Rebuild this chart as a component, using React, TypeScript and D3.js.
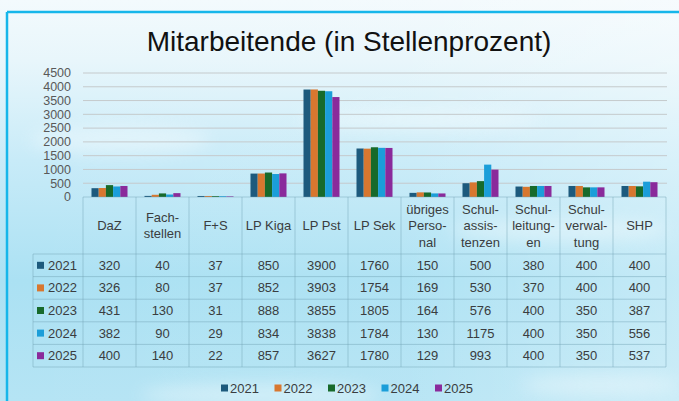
import React from "react";
import * as d3 from "d3";

const categories = ["DaZ", "Fachstellen", "F+S", "LP Kiga", "LP Pst", "LP Sek", "übriges Personal", "Schulassistenzen", "Schulleitungen", "Schulverwaltung", "SHP"];
const categoryLines = [["DaZ"], ["Fach-", "stellen"], ["F+S"], ["LP Kiga"], ["LP Pst"], ["LP Sek"], ["übriges", "Perso-", "nal"], ["Schul-", "assis-", "tenzen"], ["Schul-", "leitung-", "en"], ["Schul-", "verwal-", "tung"], ["SHP"]];
const years = ["2021", "2022", "2023", "2024", "2025"];
const v2021 = [320, 40, 37, 850, 3900, 1760, 150, 500, 380, 400, 400];
const v2022 = [326, 80, 37, 852, 3903, 1754, 169, 530, 370, 400, 400];
const v2023 = [431, 130, 31, 888, 3855, 1805, 164, 576, 400, 350, 387];
const v2024 = [382, 90, 29, 834, 3838, 1784, 130, 1175, 400, 350, 556];
const v2025 = [400, 140, 22, 857, 3627, 1780, 129, 993, 400, 350, 537];
const yTicks = [0, 500, 1000, 1500, 2000, 2500, 3000, 3500, 4000, 4500];
const colors = ["#1d5a7d", "#d8772f", "#176a2b", "#1b9ed9", "#8a2a9b"];
const title = "Mitarbeitende (in Stellenprozent)";

const series = [v2021, v2022, v2023, v2024, v2025];

export default function App() {
  const W = 679, H = 401;
  const x = d3.scaleBand<string>().domain(categories).range([83, 666]);
  const xi = d3.scaleBand<string>().domain(years).range([0, x.bandwidth()]).paddingInner(0).paddingOuter(1.18);
  const y = d3.scaleLinear().domain([0, 4500]).range([197, 73]);
  const tableTop = 197, headerBottom = 254, rowH = 22.6;
  const tableLeft = 33, tableRight = 666;
  const font = "'Liberation Sans', Arial, sans-serif";
  const lineColor = "rgba(110,160,178,0.45)";
  const textColor = "#3a3d40";
  const legendX = d3.scalePoint<string>().domain(years).range([221, 435]);

  return (
    <div style={{ position: "fixed", left: 0, top: 0, width: W, height: H }}>
      <svg width={W} height={H} style={{ display: "block" }}>
        <defs>
          <linearGradient id="bg" x1="0" y1="0" x2="0" y2="1">
            <stop offset="0%" stopColor="#f3fafd" />
            <stop offset="15%" stopColor="#e8f6fb" />
            <stop offset="40%" stopColor="#c8ebf8" />
            <stop offset="70%" stopColor="#abe1f3" />
            <stop offset="100%" stopColor="#b5e4f4" />
          </linearGradient>
          <linearGradient id="bgh" x1="0" y1="0" x2="1" y2="0">
            <stop offset="0%" stopColor="#ffffff" stopOpacity="0" />
            <stop offset="60%" stopColor="#ffffff" stopOpacity="0.05" />
            <stop offset="100%" stopColor="#ffffff" stopOpacity="0.3" />
          </linearGradient>
          <filter id="blur" x="-50%" y="-50%" width="200%" height="200%">
            <feGaussianBlur stdDeviation="8" />
          </filter>
        </defs>
        <rect width={W} height={H} fill="url(#bg)" />
        <rect width={W} height={H} fill="url(#bgh)" />
        <g filter="url(#blur)" fill="#ffffff" opacity={0.35}>
          <ellipse cx={120} cy={140} rx={90} ry={14} />
          <ellipse cx={560} cy={230} rx={110} ry={12} />
          <ellipse cx={260} cy={395} rx={120} ry={12} />
          <ellipse cx={600} cy={385} rx={80} ry={10} />
          <ellipse cx={420} cy={120} rx={120} ry={10} />
        </g>
        {/* frame */}
        <line x1={7} y1={12} x2={W} y2={12} stroke="#16b6ea" strokeWidth={2.5} />
        <line x1={7} y1={12} x2={7} y2={H} stroke="#16b6ea" strokeWidth={2.5} />

        <text x={349} y={51} textAnchor="middle" fontFamily={font} fontSize={28} fill="#111">{title}</text>

        {/* grid */}
        {yTicks.filter(t => t > 0).map(t => (
          <line key={t} x1={83} x2={667} y1={y(t)} y2={y(t)} stroke="#c5cacc" strokeWidth={1} />
        ))}
        {yTicks.map(t => (
          <text key={t} x={71} y={y(t)} dy="0.35em" textAnchor="end" fontFamily={font} fontSize={12.5} fill="#595959">{t}</text>
        ))}

        {/* bars */}
        {categories.map((c, ci) => (
          <g key={c} transform={`translate(${x(c)},0)`}>
            {years.map((yr, si) => (
              <rect key={yr} x={xi(yr)} width={xi.bandwidth()} y={y(series[si][ci])} height={y(0) - y(series[si][ci])} fill={colors[si]} />
            ))}
          </g>
        ))}

        {/* table */}
        <g stroke={lineColor} strokeWidth={1}>
          <line x1={83} x2={tableRight} y1={tableTop} y2={tableTop} />
          {years.map((yr, i) => (
            <line key={yr} x1={tableLeft} x2={tableRight} y1={headerBottom + i * rowH} y2={headerBottom + i * rowH} />
          ))}
          <line x1={tableLeft} x2={tableRight} y1={headerBottom + 5 * rowH} y2={headerBottom + 5 * rowH} />
          <line x1={tableLeft} x2={tableLeft} y1={headerBottom} y2={headerBottom + 5 * rowH} />
          {categories.map(c => (
            <line key={c} x1={x(c)} x2={x(c)} y1={tableTop} y2={headerBottom + 5 * rowH} />
          ))}
          <line x1={tableRight} x2={tableRight} y1={tableTop} y2={headerBottom + 5 * rowH} />
        </g>
        {categories.map((c, ci) => {
          const lines = categoryLines[ci];
          const cx = (x(c) as number) + x.bandwidth() / 2;
          const mid = (tableTop + headerBottom) / 2;
          const lh = 16.5;
          return (
            <text key={c} textAnchor="middle" fontFamily={font} fontSize={13} fill={textColor}>
              {lines.map((l, li) => (
                <tspan key={li} x={cx} y={mid + (li - (lines.length - 1) / 2) * lh} dy="0.35em">{l}</tspan>
              ))}
            </text>
          );
        })}
        {years.map((yr, si) => {
          const cy = headerBottom + si * rowH + rowH / 2;
          return (
            <g key={yr}>
              <rect x={37} y={cy - 3.5} width={7} height={7} fill={colors[si]} />
              <text x={48} y={cy} dy="0.35em" fontFamily={font} fontSize={13} fill={textColor}>{yr}</text>
              {categories.map((c, ci) => (
                <text key={c} x={(x(c) as number) + x.bandwidth() / 2} y={cy} dy="0.35em" textAnchor="middle" fontFamily={font} fontSize={13} fill={textColor}>{series[si][ci]}</text>
              ))}
            </g>
          );
        })}

        {/* legend */}
        {years.map((yr, si) => (
          <g key={yr} transform={`translate(${legendX(yr)},388)`}>
            <rect x={0} y={-3.5} width={7} height={7} fill={colors[si]} />
            <text x={9} y={0} dy="0.35em" fontFamily={font} fontSize={13} fill={textColor}>{yr}</text>
          </g>
        ))}
      </svg>
    </div>
  );
}
